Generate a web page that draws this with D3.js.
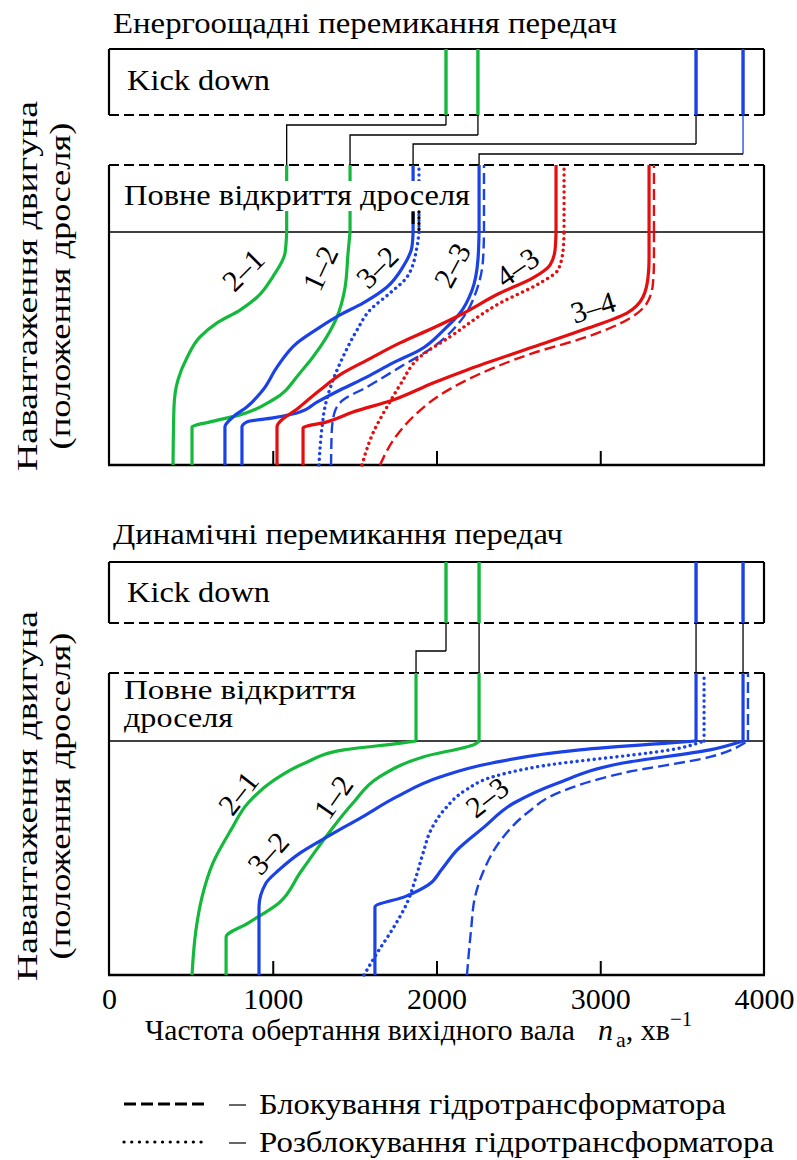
<!DOCTYPE html>
<html><head><meta charset="utf-8">
<script src="https://cdn.jsdelivr.net/npm/d3@7"></script>
<style>
body{margin:0;background:#fff}
svg text{fill:#000}
</style>
</head><body>
<svg id="c" width="797" height="1160"></svg>
<script>
// ---------------- DATA ----------------
const xTicks = [0, 1000, 2000, 3000, 4000];
const innerTicks = [1000, 2000, 3000];

// kick-down shift speeds (rpm) and where they connect in full-throttle zone
const ecoKickdown = [2058, 2253, 3585, 3872];
const ecoKickColors = ["green", "green", "blue", "blue"];
const dynKickdown = [2058, 2260, 3585, 3872];
const dynKickColors = ["green", "green", "blue", "blue"];

// Energy-saving shift curves: [output speed rpm, throttle %]
const eco21 = [[1085,100],[1075,91],[1002,81],[904,72],[800,66.5],[660,61],[556,55],[476,46],[421,36.5],[397,25],[391,0]];
const eco12 = [[1472,100],[1460,91],[1441,76],[1392,63.5],[1289,50.6],[1166,39.5],[1002,28],[800,21.5],[617,18.5],[507,16.3],[507,0]];
const eco32 = [[1857,100],[1850,93.6],[1795,85],[1698,76.4],[1551,69.5],[1411,64.4],[1289,59.2],[1148,52.4],[1026,42],[940,32.2],[843,25],[757,20.6],[708,16.3],[708,0]];
const eco32u = [[1893,100],[1881,93.6],[1820,80.7],[1716,73.8],[1594,66.5],[1515,58],[1429,46.4],[1368,36.5],[1319,25],[1301,16.3],[1282,0]];
const eco23 = [[2260,100],[2253,88],[2217,75],[2144,65.2],[2045,58],[1899,49.4],[1734,43.8],[1576,37.8],[1411,32.2],[1270,27],[1148,22.3],[1002,20.2],[843,18.5],[812,16.3],[812,0]];
const eco23l = [[2290,100],[2284,88],[2245,75],[2170,64],[1979,50.6],[1777,42],[1576,33.5],[1429,27.9],[1375,22],[1360,14],[1356,0]];
const eco43 = [[2730,100],[2724,92.3],[2693,85.8],[2589,80.3],[2388,73.8],[2144,64.4],[1979,58.8],[1777,52.4],[1576,45],[1429,39.5],[1289,32.2],[1166,25],[1026,16.3],[1026,0]];
const eco43u = [[2779,100],[2773,92.3],[2742,83.7],[2632,78.1],[2388,69.5],[2082,55],[1899,46.4],[1777,34.3],[1698,25],[1612,13.7],[1545,0]];
const eco34 = [[3298,100],[3298,88],[3292,80.7],[3261,72.1],[3163,65.2],[2895,58],[2589,50.6],[2186,40.8],[1979,35.2],[1734,27.9],[1490,22.7],[1331,18.5],[1185,15.9],[1185,0]];
const eco34l = [[3328,100],[3328,88],[3322,78],[3285,69.5],[3182,63],[2919,55],[2589,48],[2186,36.5],[2021,30],[1869,21.5],[1759,12.9],[1655,0]];

// Dynamic shift curves
const dyn21 = [[1875,100],[1783,99.1],[1435,96.2],[1197,90.6],[1008,83.3],[849,73.5],[745,62],[635,47.9],[568,33.3],[531,19.2],[507,0]];
const dyn12 = [[2260,100],[2235,98.7],[1918,93.2],[1649,84.6],[1490,73.5],[1356,62],[1252,52.1],[1166,43.6],[1038,30.8],[849,22.2],[715,16.2],[715,0]];
const dyn32 = [[3585,100],[3408,99.1],[2876,96.2],[2339,90.6],[2021,84.6],[1753,76],[1545,67.5],[1331,59],[1166,52.1],[1038,44.9],[959,39.3],[916,29],[916,0]];
const dyn32u = [[3634,100],[3487,97],[2608,88.9],[2339,84.6],[2180,79.1],[2046,70.5],[1966,62],[1918,52.1],[1875,41.9],[1820,30.8],[1728,19.2],[1649,10.7],[1557,0]];
const dyn23 = [[3872,100],[3670,96.2],[3139,90.6],[2742,82.1],[2473,73.5],[2290,63.2],[2125,53.4],[2030,45],[1950,38.5],[1808,33.5],[1624,29],[1624,0]];
const dyn23l = [[3902,100],[3670,93.2],[3139,86.3],[2742,77.8],[2553,69.2],[2394,57.7],[2290,44.9],[2235,33.3],[2211,19.2],[2186,0]];

// curve labels: [text, rpm, throttle %]
const ecoLabels = [["2–1",818,83.7],["1–2",1289,84.5],["3–2",1637,85],["2–3",2095,85.8],["4–3",2492,85],["3–4",2956,67.8]];
const dynLabels = [["2–1",788,77.8],["1–2",1368,76],["3–2",971,52.1],["2–3",2308,76]];
const ecoLabelAngles = [-45,-65,-45,-62,-35,-17];
const dynLabelAngles = [-52,-55,-48,-38];

const titles = ["Енергоощадні перемикання передач", "Динамічні перемикання передач"];
const yTitle = ["Навантаження двигуна", "(положення дроселя)"];
const legendTexts = ["Блокування гідротрансформатора", "Розблокування гідротрансформатора"];

// ---------------- STYLE / LAYOUT ----------------
const FONT = "Liberation Serif, Tinos, Times New Roman, Times, Nimbus Roman, FreeSerif, DejaVu Serif, Noto Serif, serif";
const COL = {green:"#14b93c", blue:"#1a42e6", red:"#e50d0d", black:"#000"};
const svg = d3.select("#c");
const X0 = 109, X1 = 764;
const x = d3.scaleLinear().domain([0, 4000]).range([X0, X1]);

function txt(parent, s, size) {
  return parent.append("text").style("font-family", FONT).attr("font-size", size).text(s);
}

const panels = [
  {title: titles[0], titleY: 33, kdTop: 49, kdBot: 115, ftTop: 165, line: 232, bottom: 465,
   kick: ecoKickdown, kickColors: ecoKickColors,
   ftTargets: [eco21, eco12, eco32, eco23], connOff: [10, 20, 29, 39], connBlueV: [false,false,false,true],
   series: [
     {d: eco21, c: "green", s: "solid"}, {d: eco12, c: "green", s: "solid"},
     {d: eco32u, c: "blue", s: "dot"}, {d: eco32, c: "blue", s: "solid"},
     {d: eco23l, c: "blue", s: "dash"}, {d: eco23, c: "blue", s: "solid"},
     {d: eco43u, c: "red", s: "dot"}, {d: eco43, c: "red", s: "solid"},
     {d: eco34l, c: "red", s: "dash"}, {d: eco34, c: "red", s: "solid"}],
   labels: ecoLabels, angles: ecoLabelAngles,
   ftText: [["Повне відкриття дроселя", 205, 346, 30]], kdTextY: 90, ytCenter: 286, white: true},
  {title: titles[1], titleY: 544, kdTop: 562, kdBot: 623, ftTop: 673, line: 741, bottom: 975,
   kick: dynKickdown, kickColors: dynKickColors,
   ftTargets: [dyn21, dyn12, dyn32, dyn23], connOff: [28, 0, 0, 0], connBlueV: [false,false,false,false],
   series: [
     {d: dyn21, c: "green", s: "solid"}, {d: dyn12, c: "green", s: "solid"},
     {d: dyn32u, c: "blue", s: "dot"}, {d: dyn32, c: "blue", s: "solid"},
     {d: dyn23l, c: "blue", s: "dash"}, {d: dyn23, c: "blue", s: "solid"}],
   labels: dynLabels, angles: dynLabelAngles,
   ftText: [["Повне відкриття", 699, 232, 27], ["дроселя", 727, 109, 27]], kdTextY: 602, ytCenter: 796, white: false}
];

function styleLine(sel, s, color) {
  sel.attr("fill", "none").attr("stroke", COL[color]);
  if (s === "solid") sel.attr("stroke-width", 3.2);
  else if (s === "dash") sel.attr("stroke-width", 2.4).attr("stroke-dasharray", "11,5");
  else sel.attr("stroke-width", 3.4).attr("stroke-dasharray", "0.1,5.6").attr("stroke-linecap", "round");
  return sel;
}

panels.forEach((p, pi) => {
  const g = svg.append("g");
  const y = d3.scaleLinear().domain([0, 100]).range([p.bottom, p.line]);

  txt(g, p.title, 30).attr("x", 113).attr("y", p.titleY)
    .attr("textLength", pi === 0 ? 504 : 450).attr("lengthAdjust", "spacingAndGlyphs");

  const fr = g.append("g").attr("stroke", "#000").attr("fill", "none");
  fr.append("line").attr("x1", X0).attr("x2", X1).attr("y1", p.kdTop).attr("y2", p.kdTop).attr("stroke-width", 2.2);
  fr.append("line").attr("x1", X0).attr("x2", X0).attr("y1", p.kdTop).attr("y2", p.kdBot).attr("stroke-width", 2.2);
  fr.append("line").attr("x1", X1).attr("x2", X1).attr("y1", p.kdTop).attr("y2", p.kdBot).attr("stroke-width", 2.2);
  fr.append("line").attr("x1", X0).attr("x2", X1).attr("y1", p.kdBot).attr("y2", p.kdBot).attr("stroke-width", 2.2).attr("stroke-dasharray", "10,5");
  fr.append("line").attr("x1", X0).attr("x2", X1).attr("y1", p.ftTop).attr("y2", p.ftTop).attr("stroke-width", 2.2).attr("stroke-dasharray", "10,5");
  fr.append("line").attr("x1", X0).attr("x2", X0).attr("y1", p.ftTop).attr("y2", p.bottom).attr("stroke-width", 2.2);
  fr.append("line").attr("x1", X1).attr("x2", X1).attr("y1", p.ftTop).attr("y2", p.bottom).attr("stroke-width", 2.2);
  fr.append("line").attr("x1", X0).attr("x2", X1).attr("y1", p.line).attr("y2", p.line).attr("stroke-width", 1.6);
  fr.append("line").attr("x1", X0 - 1).attr("x2", X1 + 1).attr("y1", p.bottom).attr("y2", p.bottom).attr("stroke-width", 2.6);

  const ax = g.append("g").attr("transform", `translate(0,${p.bottom})`)
    .call(d3.axisBottom(x).tickValues(innerTicks).tickSize(-14).tickFormat(""));
  ax.select(".domain").remove();
  ax.selectAll("line").attr("stroke", "#000").attr("stroke-width", 2);

  p.kick.forEach((n, i) => {
    g.append("line").attr("x1", x(n)).attr("x2", x(n)).attr("y1", p.kdTop).attr("y2", p.kdBot)
      .attr("stroke", COL[p.kickColors[i]]).attr("stroke-width", 3.4);
  });
  p.kick.forEach((n, i) => {
    const xf = x(p.ftTargets[i][0][0]), xk = x(n);
    if (p.connOff[i] > 0) {
      const yc = p.kdBot + p.connOff[i];
      g.append("path").attr("d", `M${xk},${p.kdBot}V${yc}`).attr("fill", "none")
        .attr("stroke", p.connBlueV[i] ? COL.blue : "#000").attr("stroke-width", 1.3);
      g.append("path").attr("d", `M${xk},${yc}H${xf}V${p.ftTop}`).attr("fill", "none")
        .attr("stroke", "#000").attr("stroke-width", 1.3);
    } else {
      g.append("path").attr("d", `M${xk},${p.kdBot}V${p.ftTop}`).attr("fill", "none")
        .attr("stroke", "#000").attr("stroke-width", 1.3);
    }
  });

  const lineGen = d3.line().x(d => x(d[0])).y(d => y(d[1])).curve(d3.curveMonotoneY);
  p.series.forEach(s => {
    const pts = s.d.slice().sort((a, b) => a[1] - b[1]);
    const top = pts[pts.length - 1];
    styleLine(g.append("path").attr("d", lineGen(pts)), s.s, s.c);
    styleLine(g.append("line").attr("x1", x(top[0])).attr("x2", x(top[0]))
      .attr("y1", y(top[1])).attr("y2", p.ftTop), s.s, s.c);
  });

  txt(g, "Kick down", 30).attr("x", 127).attr("y", p.kdTextY)
    .attr("textLength", 143).attr("lengthAdjust", "spacingAndGlyphs");

  p.ftText.forEach(t => {
    const tx = txt(g, t[0], t[3]).attr("x", 124).attr("y", t[1])
      .attr("textLength", t[2]).attr("lengthAdjust", "spacingAndGlyphs");
    if (p.white) {
      const bb = tx.node().getBBox();
      g.insert("rect", function(){ return tx.node(); })
        .attr("x", bb.x - 2).attr("y", bb.y + 3).attr("width", bb.width + 4).attr("height", bb.height - 3)
        .attr("fill", "#fff");
      const yb = bb.y + bb.height + 1;
      g.append("line").attr("x1", x(eco32[0][0])).attr("x2", x(eco32[0][0])).attr("y1", yb).attr("y2", yb + 12)
        .attr("stroke", "#000").attr("stroke-width", 3);
      g.append("line").attr("x1", x(eco32u[0][0])).attr("x2", x(eco32u[0][0])).attr("y1", yb).attr("y2", p.line - 2)
        .attr("stroke", "#000").attr("stroke-width", 3.4).attr("stroke-dasharray", "0.1,5.6").attr("stroke-linecap", "round");
    }
  });

  p.labels.forEach((l, i) => {
    txt(g, l[0], 30).attr("text-anchor", "middle").attr("dominant-baseline", "central")
      .attr("transform", `translate(${x(l[1])},${y(l[2])}) rotate(${p.angles[i]})`);
  });

  txt(g, yTitle[0], 30).attr("transform", `translate(37,${p.ytCenter}) rotate(-90)`).attr("text-anchor", "middle")
    .attr("textLength", 370).attr("lengthAdjust", "spacingAndGlyphs");
  txt(g, yTitle[1], 30).attr("transform", `translate(70,${p.ytCenter}) rotate(-90)`).attr("text-anchor", "middle")
    .attr("textLength", 327).attr("lengthAdjust", "spacingAndGlyphs");

  if (pi === 1) {
    const lab = g.append("g").attr("transform", `translate(0,${p.bottom})`)
      .call(d3.axisBottom(x).tickValues(xTicks).tickSize(0).tickFormat(d3.format("d")));
    lab.select(".domain").remove();
    lab.selectAll("text").attr("y", 34).attr("dy", 0).style("font-family", FONT).attr("font-size", 30).attr("fill", "#000");
  }
});

// x axis title
const at = svg.append("text").attr("x", 145).attr("y", 1040).style("font-family", FONT).attr("font-size", 30);
at.append("tspan").attr("textLength", 430).attr("lengthAdjust", "spacingAndGlyphs").text("Частота обертання вихідного вала");
at.append("tspan").attr("x", 598).attr("font-style", "italic").text("n");
at.append("tspan").attr("dx", 3).attr("dy", 7).attr("font-size", 22).text("а");
at.append("tspan").attr("dy", -7).text(", хв");
at.append("tspan").attr("dy", -14).attr("font-size", 21).text("−1");

// legend
const legendStyles = [{dash: "12,5", w: 3, cap: "butt"}, {dash: "0.1,7.6", w: 3.2, cap: "round"}];
const legendY = [1104, 1142];
legendTexts.forEach((t, i) => {
  svg.append("line").attr("x1", 124).attr("x2", 207).attr("y1", legendY[i]).attr("y2", legendY[i])
    .attr("stroke", "#000").attr("stroke-width", legendStyles[i].w)
    .attr("stroke-dasharray", legendStyles[i].dash).attr("stroke-linecap", legendStyles[i].cap);
  svg.append("line").attr("x1", 229).attr("x2", 246).attr("y1", legendY[i] + 1).attr("y2", legendY[i] + 1)
    .attr("stroke", "#000").attr("stroke-width", 1.2);
  txt(svg, t, 30).attr("x", 259).attr("y", legendY[i] + 10)
    .attr("textLength", i === 0 ? 467 : 515).attr("lengthAdjust", "spacingAndGlyphs");
});
</script>
</body></html>
